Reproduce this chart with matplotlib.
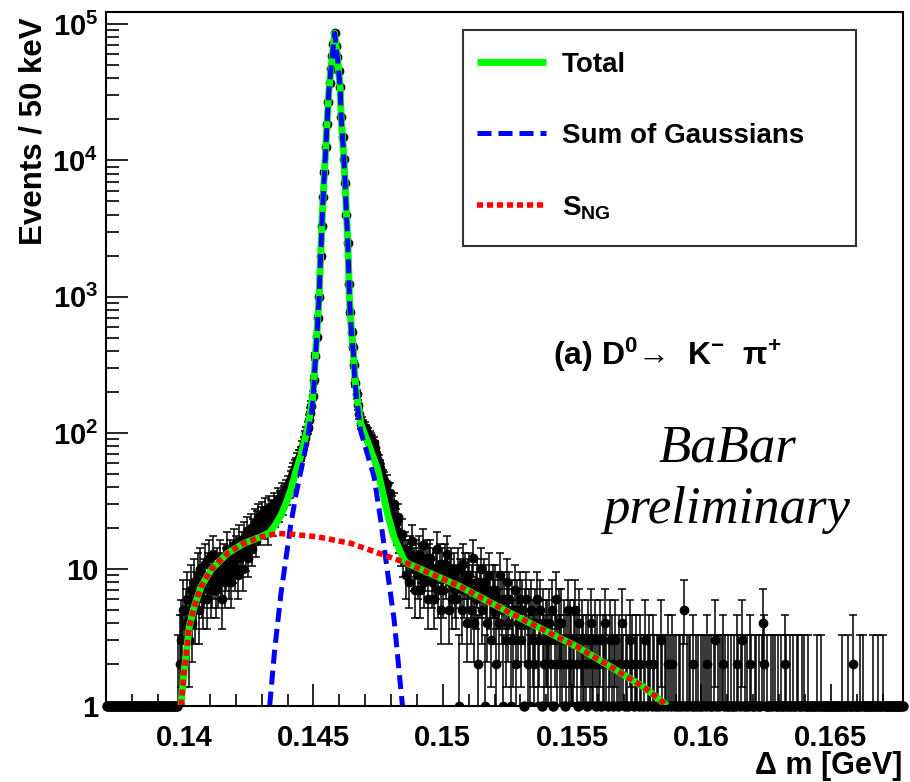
import numpy as np
import matplotlib
matplotlib.use("Agg")
import matplotlib.pyplot as plt
from matplotlib.patches import Rectangle
from matplotlib.ticker import FixedLocator, FixedFormatter, LogLocator, MultipleLocator, NullFormatter

plt.rcParams['font.family'] = ['Liberation Sans', 'DejaVu Sans']
plt.rcParams['font.weight'] = 'bold'
plt.rcParams['mathtext.fontset'] = 'custom'
plt.rcParams['mathtext.rm'] = 'Liberation Sans:bold'
plt.rcParams['mathtext.it'] = 'Liberation Sans:bold'
plt.rcParams['mathtext.bf'] = 'Liberation Sans:bold'

# ---- histogram: events per 50 keV bin, starting at 0.137 GeV ----
first_bin = 0.137
bin_width = 0.00005

# below the kinematic threshold: empty bins
counts_below = [0] * 55
# threshold rise, 0.1398 - 0.1430
counts_rise = [1, 2, 3, 2, 5, 3, 4, 6, 3, 5,
               7, 4, 8, 5, 6, 9, 5, 10, 7, 6,
               8, 11, 6, 9, 12, 7, 8, 13, 9, 7,
               10, 8, 12, 9, 6, 11, 8, 10, 14, 9,
               12, 8, 11, 15, 10, 13, 9, 16, 12, 14,
               10, 17, 13, 19, 12, 15, 20, 14, 18, 22,
               16, 21, 24, 19, 23]
# left shoulder of the peak, 0.1430 - 0.1450
counts_left = [25, 21, 27, 23, 19, 28, 24, 26, 22, 30,
               25, 28, 33, 27, 31, 36, 30, 34, 38, 35,
               41, 39, 45, 48, 52, 55, 57, 62, 66, 66,
               70, 78, 84, 92, 100, 108, 124, 140, 158]
# peak, 0.1450 - 0.1469
counts_peak = [188, 245, 364, 503, 697, 993, 1990, 3310, 5420, 8200,
               12500, 18400, 26800, 36700, 46900, 58300, 71100, 85900, 69500, 57000,
               45100, 34600, 20800, 14800, 10300, 6780, 3980, 2460, 1230, 767,
               552, 430, 316, 234, 192, 161, 138, 117]
# right shoulder, 0.1469 - 0.1485
counts_right = [118, 112, 108, 104, 99, 97, 92, 90, 86, 84,
                77, 70, 64, 60, 55, 51, 46, 44, 39, 42,
                35, 31, 36, 28, 25, 30, 22, 19, 24, 17,
                14, 18, 12]
# falling tail, 0.1485 - 0.1580
counts_tail = [14, 9, 12, 8, 13, 11, 16, 10, 7, 12,
               9, 13, 7, 11, 15, 8, 10, 12, 6, 11,
               12, 8, 10, 6, 9, 14, 7, 11, 5, 10,
               7, 11, 9, 13, 5, 8, 10, 6, 9, 7,
               6, 10, 1, 8, 5, 11, 7, 9, 4, 8,
               9, 5, 7, 12, 4, 6, 8, 2, 7, 10,
               5, 8, 1, 7, 4, 9, 6, 3, 7, 5,
               7, 2, 6, 4, 9, 5, 1, 6, 3, 8,
               4, 6, 1, 5, 3, 7, 2, 5, 4, 6,
               3, 5, 0, 4, 6, 2, 4, 1, 5, 3,
               2, 4, 6, 1, 3, 5, 0, 4, 2, 3,
               3, 1, 4, 2, 5, 0, 3, 6, 2, 4,
               2, 4, 1, 3, 0, 2, 5, 1, 3, 2,
               1, 3, 5, 2, 0, 4, 1, 3, 2, 1,
               2, 0, 3, 1, 4, 2, 1, 3, 0, 2,
               1, 3, 0, 2, 1, 4, 2, 0, 1, 3,
               2, 0, 1, 3, 1, 0, 2, 1, 4, 1,
               0, 2, 1, 0, 3, 1, 2, 0, 1, 2,
               1, 0, 2, 1, 0, 1, 3, 0, 1, 2]
# far tail, 0.1580 - 0.1678
counts_far = [1, 0, 2, 1, 0, 1, 1, 0, 3, 1,
              0, 1, 1, 0, 2, 1, 0, 2, 1, 0,
              1, 0, 1, 1, 0, 1, 5, 0, 1, 0,
              1, 1, 0, 2, 0, 1, 0, 1, 0, 1,
              0, 1, 1, 0, 2, 1, 0, 1, 0, 1,
              3, 0, 1, 0, 1, 1, 2, 0, 1, 0,
              1, 0, 1, 0, 0, 1, 0, 2, 1, 0,
              1, 3, 0, 1, 0, 1, 0, 2, 1, 0,
              0, 1, 1, 0, 1, 0, 1, 4, 2, 0,
              1, 0, 0, 1, 0, 1, 1, 0, 0, 1,
              0, 1, 0, 0, 2, 1, 0, 0, 1, 0,
              1, 0, 0, 1, 1, 0, 0, 1, 0, 1,
              0, 0, 1, 0, 0, 0, 0, 0, 0, 1,
              0, 0, 1, 0, 0, 0, 0, 0, 0, 0,
              0, 0, 0, 0, 0, 0, 0, 0, 1, 0,
              0, 0, 0, 1, 0, 0, 0, 2, 0, 0,
              0, 0, 1, 0, 1, 0, 0, 0, 0, 0,
              0, 0, 1, 0, 0, 0, 1, 0, 0, 0,
              1, 0, 0, 0, 0, 0, 0, 0, 0, 0,
              0, 0, 0, 0, 0, 0]

counts = (counts_below + counts_rise + counts_left + counts_peak
          + counts_right + counts_tail + counts_far)

# ---- fit curves ----
total_x = [0.13988, 0.14001, 0.14020, 0.14039, 0.14065, 0.14104, 0.14168, 0.14232,
           0.14297, 0.14331, 0.14350, 0.14374, 0.14393, 0.14412, 0.14432, 0.14451,
           0.14477, 0.14496, 0.14502, 0.14509, 0.14515, 0.14522, 0.14526, 0.14531,
           0.14535, 0.14541, 0.14548, 0.14554, 0.14560, 0.14570, 0.14582, 0.14595,
           0.14604, 0.14607, 0.14615, 0.14622, 0.14627, 0.14632, 0.14636, 0.14639,
           0.14646, 0.14654, 0.14661, 0.14670, 0.14683, 0.14720, 0.14747, 0.14786,
           0.14811, 0.14850, 0.14863, 0.15069, 0.15262, 0.15390, 0.15519, 0.15648,
           0.15776, 0.15867]
total_y = [1.0, 1.82, 3.79, 5.3, 7.4, 9.9, 13.1, 15.5,
           17.3, 18.6, 20.8, 24.8, 30, 38, 52, 68,
           107, 174, 244, 406, 598, 993, 1648, 2735,
           4318, 7165, 12530, 20800, 32800, 51700, 85900, 51700,
           32800, 20800, 12530, 7165, 4318, 2735, 1648, 993,
           598, 406, 244, 174, 117, 76, 55, 25.7,
           17.3, 11.7, 11.05, 7.44, 4.75, 3.58, 2.70, 1.93,
           1.37, 1.0]

gauss_x = [0.14331, 0.14350, 0.14374, 0.14393, 0.14412, 0.14432, 0.14451, 0.14477,
           0.14496, 0.14502, 0.14509, 0.14515, 0.14522, 0.14526, 0.14531, 0.14535,
           0.14541, 0.14548, 0.14554, 0.14560, 0.14570, 0.14582, 0.14595, 0.14604,
           0.14607, 0.14615, 0.14622, 0.14627, 0.14632, 0.14636, 0.14639, 0.14646,
           0.14654, 0.14661, 0.14670, 0.14682, 0.14734, 0.14760, 0.14780, 0.14812,
           0.14844]
gauss_y = [1.0, 2.55, 6.5, 11.7, 21, 35, 52, 90,
           157, 227, 389, 581, 976, 1631, 2718, 4300,
           7150, 12510, 20780, 32780, 51680, 85880, 51680, 32780,
           20780, 12510, 7150, 4300, 2718, 1631, 976, 581,
           390, 229, 160, 104, 48, 23, 11.7, 4.24,
           1.0]

sng_x = [0.13988, 0.14001, 0.14020, 0.14039, 0.14065, 0.14104, 0.14168, 0.14232,
         0.14297, 0.14361, 0.14412, 0.14515, 0.14644, 0.14773, 0.14863, 0.15069,
         0.15262, 0.15390, 0.15519, 0.15648, 0.15776, 0.15867]
sng_y = [1.0, 1.82, 3.79, 5.3, 7.4, 9.9, 13.1, 15.5,
         17.3, 18.3, 18.1, 17.3, 15.5, 12.7, 11.05, 7.44,
         4.75, 3.58, 2.70, 1.93, 1.37, 1.0]

x_ticks = [0.14, 0.145, 0.15, 0.155, 0.16, 0.165]
x_labels = ['0.14', '0.145', '0.15', '0.155', '0.16', '0.165']
y_ticks = [1, 10, 100, 1000, 10000, 100000]
y_labels = ['1', '10', r'$10^{2}$', r'$10^{3}$', r'$10^{4}$', r'$10^{5}$']

# 68% Poisson intervals for small counts
garwood_lo = [0.0, 0.173, 0.708, 1.367, 2.086, 2.840, 3.620, 4.419, 5.232, 6.057, 6.891]
garwood_hi = [1.841, 3.300, 4.638, 5.918, 7.163, 8.382, 9.584, 10.77, 11.95, 13.11, 14.27]


def poisson_band(k):
    if k <= 10:
        return garwood_lo[k], garwood_hi[k]
    return k - np.sqrt(k) + 0.3, k + np.sqrt(k) + 1.0


n = np.array(counts)
centers = first_bin + bin_width * (np.arange(len(n)) + 0.5)
filled = n > 0
lo = np.array([poisson_band(k)[0] for k in n[filled]])
hi = np.array([poisson_band(k)[1] for k in n[filled]])

fig = plt.figure(figsize=(9.1, 7.82), dpi=100)
ax = fig.add_axes([0.1170, 0.0978, 0.8756, 0.8864])
ax.set_yscale('log')
ax.set_xlim(0.137, 0.1678)
ax.set_ylim(1, 1.22e5)

ax.errorbar(centers[filled], n[filled], yerr=[n[filled] - lo, hi - n[filled]],
            fmt='o', ms=6, color='black', ecolor='black', elinewidth=1.1,
            capsize=3, capthick=1.1, zorder=2)
# empty bins sit on the lower frame
ax.plot(centers[~filled], np.ones((~filled).sum()) * ax.get_ylim()[0], 'o',
        ms=6.5, color='black', zorder=2, clip_on=False)

l_tot, = ax.plot(total_x, total_y, color='#00ff00', lw=5.0, zorder=3,
                 solid_capstyle='butt')
l_gau, = ax.plot(gauss_x, gauss_y, color='#0000ff', lw=3.6, zorder=4,
                 dashes=(2.8, 1.4))
l_sng, = ax.plot(sng_x, sng_y, color='#ff0000', lw=4.0, zorder=5,
                 dashes=(1.1, 0.7))

ax.xaxis.set_major_locator(FixedLocator(x_ticks))
ax.xaxis.set_major_formatter(FixedFormatter(x_labels))
ax.xaxis.set_minor_locator(MultipleLocator(0.001))
ax.yaxis.set_major_locator(FixedLocator(y_ticks))
ax.yaxis.set_major_formatter(FixedFormatter(y_labels))
ax.yaxis.set_minor_locator(LogLocator(base=10, subs=np.arange(2, 10)))
ax.yaxis.set_minor_formatter(NullFormatter())

ax.tick_params(which='both', direction='in', width=1.2, labelsize=21)
ax.tick_params(which='major', length=16)
ax.tick_params(which='minor', length=9)
ax.tick_params(axis='x', pad=13)
ax.tick_params(axis='y', pad=6)
for s in ax.spines.values():
    s.set_linewidth(1.5)
    s.set_zorder(6)

fig.text(34 / 910, 1 - 131 / 782, 'Events / 50 keV', rotation=90,
         ha='center', va='center', fontsize=22.5, fontweight='bold')
fig.text(902 / 910, 1 - 766 / 782, u'\u0394 m [GeV]', ha='right', va='center',
         fontsize=22, fontweight='bold')

# legend entries placed without frame; frame drawn as a separate box
leg = ax.legend([l_tot, l_gau, l_sng], ['Total', 'Sum of Gaussians', r'S$_{NG}$'],
                loc='upper left', bbox_to_anchor=(477 / 910, 1 - 52 / 782),
                bbox_transform=fig.transFigure, borderaxespad=0, borderpad=0,
                labelspacing=1.62, handlelength=2.5, handletextpad=0.55,
                frameon=False, prop=dict(family='Liberation Sans', weight='bold', size=20))
fig.add_artist(Rectangle((463 / 910, 1 - 246 / 782), 393 / 910, 216 / 782,
                         transform=fig.transFigure, fill=False,
                         edgecolor='#333333', linewidth=1.5))

fig.text(553 / 910, 1 - 355 / 782, u'(a) D$^{0}$\u2192  K$^{-}$  \u03c0$^{+}$',
         ha='left', va='center', fontsize=23, fontweight='bold')
fig.text(727 / 910, 1 - 462 / 782, 'BaBar', ha='center', va='baseline',
         fontsize=38, family='Liberation Serif', style='italic', fontweight='normal')
fig.text(727 / 910, 1 - 523 / 782, 'preliminary', ha='center', va='baseline',
         fontsize=38, family='Liberation Serif', style='italic', fontweight='normal')

fig.savefig('out.png', dpi=100)
